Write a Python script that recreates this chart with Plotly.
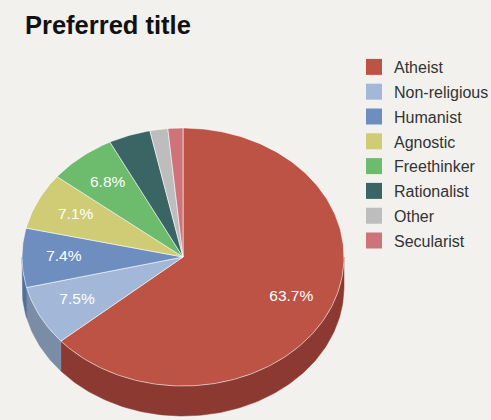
import math
import plotly.graph_objects as go

# Share of respondents by preferred title (percent)
categories = ["Atheist", "Non-religious", "Humanist", "Agnostic",
              "Freethinker", "Rationalist", "Other", "Secularist"]
values = [63.7, 7.5, 7.4, 7.1, 6.8, 4.2, 1.8, 1.5]
top_colors = ["#BC5344", "#A3B8D8", "#6E8EC0", "#CFCC75",
              "#6DBB6D", "#3B6565", "#BDBDBD", "#CE7379"]
side_colors = ["#8C3A31", "#7A8CA6", "#52709C", "#9E9B55",
               "#4F8F4F", "#2A4A4A", "#8E8E8E", "#9C5559"]
label_min = 5.0

W, H = 491, 420
BG = "#F2F1EE"

# Tilted-disc geometry (pixel space of the axes)
CX, CY = 183, 257
RX, RY = 161, 129
DEPTH = 30
LABEL_R = 0.74


def pt(angle_deg, r=1.0, dy=0.0):
    a = math.radians(angle_deg)
    return CX + r * RX * math.sin(a), CY - r * RY * math.cos(a) + dy


def arc(a0, a1, dy=0.0):
    n = max(2, int(abs(a1 - a0)) + 1)
    pts = [pt(a0 + (a1 - a0) * i / (n - 1), dy=dy) for i in range(n)]
    return [p[0] for p in pts], [p[1] for p in pts]


total = sum(values)
bounds = []
acc = 0.0
for v in values:
    a0 = acc / total * 360
    acc += v
    bounds.append((a0, acc / total * 360))

fig = go.Figure()

# Side walls: only the front half (90..270 deg) is visible
for (a0, a1), col in zip(bounds, side_colors):
    s, e = max(a0, 90), min(a1, 270)
    if e <= s:
        continue
    tx, ty = arc(s, e)
    bx, by = arc(e, s, dy=DEPTH)
    fig.add_trace(go.Scatter(x=tx + bx + [tx[0]], y=ty + by + [ty[0]],
                             mode="lines", fill="toself", fillcolor=col,
                             line=dict(color=col, width=0.5),
                             hoverinfo="skip", showlegend=False))

# Top faces
for (a0, a1), col, name, v in zip(bounds, top_colors, categories, values):
    ax, ay = arc(a0, a1)
    fig.add_trace(go.Scatter(x=[CX] + ax + [CX], y=[CY] + ay + [CY],
                             mode="lines", fill="toself", fillcolor=col,
                             line=dict(color="rgba(255,255,255,0.55)", width=1),
                             name=name, text=f"{name}: {v}%", hoverinfo="text",
                             showlegend=False))

# Percentage labels inside the larger slices
lx, ly, lt = [], [], []
for (a0, a1), v in zip(bounds, values):
    if v < label_min:
        continue
    x, y = pt((a0 + a1) / 2, r=LABEL_R)
    lx.append(x)
    ly.append(y)
    lt.append(f"{v}%")
fig.add_trace(go.Scatter(x=lx, y=ly, text=lt, mode="text",
                         textfont=dict(family="Liberation Sans, Arial", size=15.5,
                                       color="#FFFFFF"),
                         hoverinfo="skip", showlegend=False))

# Legend entries
for name, col in zip(categories, top_colors):
    fig.add_trace(go.Scatter(x=[None], y=[None], mode="markers", name=name,
                             legendgroup=name,
                             marker=dict(symbol="square", size=16, color=col,
                                         line=dict(width=0))))

fig.update_layout(
    width=W, height=H,
    margin=dict(l=0, r=0, t=0, b=0, autoexpand=False),
    paper_bgcolor=BG, plot_bgcolor=BG,
    title=dict(text="Preferred title", x=25 / W, xanchor="left",
               y=1 - 25 / H, yanchor="middle",
               font=dict(family="Liberation Sans, Arial", size=25.5,
                         color="#111111", weight="bold")),
    xaxis=dict(range=[0, W], visible=False, fixedrange=True),
    yaxis=dict(range=[H, 0], visible=False, fixedrange=True),
    legend=dict(x=354 / W, xanchor="left", y=1 - 50 / H, yanchor="top",
                bgcolor="rgba(0,0,0,0)", tracegroupgap=1,
                traceorder="grouped",
                font=dict(family="Liberation Sans, Arial", size=16,
                          color="#333333")),
    showlegend=True,
)

fig.write_html("out.html")
